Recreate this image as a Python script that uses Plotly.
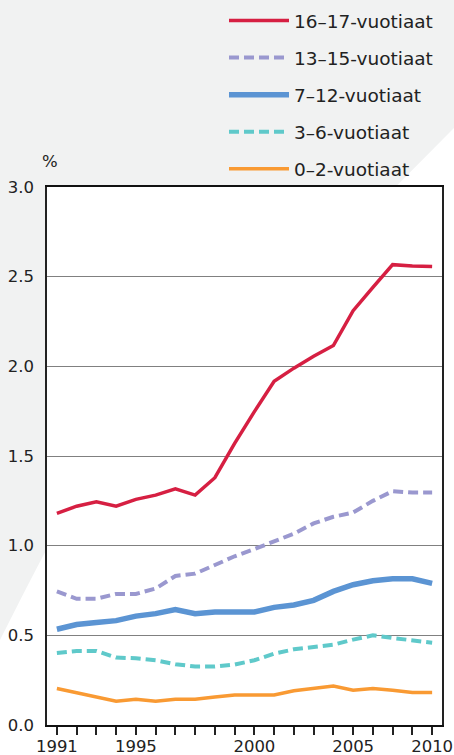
import plotly.graph_objects as go

years = list(range(1991, 2011))

age_16_17 = [1.18, 1.22, 1.245, 1.22, 1.258, 1.282, 1.317, 1.282, 1.379, 1.57, 1.747, 1.917,
             1.99, 2.056, 2.116, 2.31, 2.44, 2.567, 2.56, 2.556]
age_13_15 = [0.745, 0.704, 0.704, 0.731, 0.731, 0.761, 0.831, 0.844, 0.892, 0.941, 0.981, 1.027,
             1.067, 1.124, 1.161, 1.185, 1.25, 1.304, 1.296, 1.296]
age_7_12 = [0.534, 0.56, 0.571, 0.582, 0.607, 0.621, 0.644, 0.62, 0.63, 0.63, 0.63, 0.656,
            0.669, 0.695, 0.745, 0.782, 0.804, 0.815, 0.815, 0.79]
age_3_6 = [0.402, 0.413, 0.413, 0.376, 0.372, 0.361, 0.339, 0.326, 0.326, 0.337, 0.361, 0.398,
           0.422, 0.435, 0.448, 0.476, 0.5, 0.485, 0.472, 0.459]
age_0_2 = [0.204, 0.18, 0.157, 0.133, 0.144, 0.133, 0.144, 0.144, 0.156, 0.167, 0.167, 0.167,
           0.191, 0.204, 0.217, 0.194, 0.204, 0.194, 0.181, 0.181]

series_names = ["16–17-vuotiaat", "13–15-vuotiaat", "7–12-vuotiaat", "3–6-vuotiaat", "0–2-vuotiaat"]
series_values = [age_16_17, age_13_15, age_7_12, age_3_6, age_0_2]
series_colors = ["#d61f42", "#9a98cf", "#5b94d3", "#5fc9ca", "#f99a33"]
series_widths = [3.5, 4, 5.5, 4, 3.5]
series_dash = ["solid", "10px,5px", "solid", "10px,5px", "solid"]

# tick labels as they appear in the picture
tick_label_text = {1991: "1991", 1995: "1995", 2001: "2000", 2006: "2005", 2010: "2010"}
y_ticks = [0, 0.5, 1.0, 1.5, 2.0, 2.5, 3.0]

FONT = "DejaVu Sans"

fig = go.Figure()
for i, (name, vals, col, w, d) in enumerate(zip(series_names, series_values, series_colors,
                                                 series_widths, series_dash)):
    fig.add_trace(go.Scatter(
        x=years, y=vals, name=name, mode="lines",
        line=dict(color=col, width=w, dash=d),
        legendgroup=f"g{i}",
    ))

W, H = 454, 755
L, R, T, B = 47, 12, 187, 30
pw, ph = W - L - R, H - T - B


def px(xp, yp):
    return (xp - L) / pw, (H - B - yp) / ph


p1 = px(454, 128)
p2 = px(454, 760)
p3 = px(-5, 760)
p4 = px(-5, 650)
c = px(40, 560)
p5 = px(60, 525)
path = (f"M {p1[0]},{p1[1]} L {p2[0]},{p2[1]} L {p3[0]},{p3[1]} L {p4[0]},{p4[1]} "
        f"Q {c[0]},{c[1]} {p5[0]},{p5[1]} Z")

fig.add_shape(type="path", path=path, xref="paper", yref="paper",
              fillcolor="#ffffff", line=dict(width=0), layer="below")

fig.add_annotation(text="%", xref="paper", yref="paper", x=px(50, 0)[0], y=px(0, 162)[1],
                   showarrow=False, xanchor="center", yanchor="middle",
                   font=dict(family=FONT, size=16.5, color="#222222"))

fig.update_layout(
    width=W, height=H,
    margin=dict(l=L, r=R, t=T, b=B, pad=0, autoexpand=False),
    paper_bgcolor="#f1f2f2",
    plot_bgcolor="#ffffff",
    font=dict(family=FONT, size=16.5, color="#222222"),
    showlegend=True,
    legend=dict(
        x=px(224, 0)[0], y=px(0, 2)[1], xanchor="left", yanchor="top",
        bgcolor="rgba(0,0,0,0)", borderwidth=0,
        font=dict(family=FONT, size=18.5, color="#222222"),
        itemwidth=60, tracegroupgap=10,
    ),
    xaxis=dict(
        range=[1990.5, 2010.5],
        tickvals=years,
        ticktext=[tick_label_text.get(y, "") for y in years],
        ticks="outside", ticklen=8, tickwidth=1.5, tickcolor="#222222",
        showline=True, linecolor="#111111", linewidth=1.5, mirror=True,
        showgrid=False, zeroline=False, ticklabelstandoff=-3,
        tickfont=dict(family=FONT, size=16.5, color="#222222"),
    ),
    yaxis=dict(
        range=[0, 3], tickvals=y_ticks, tickformat=".1f",
        ticks="", showline=True, linecolor="#222222", linewidth=1.5, mirror=True,
        showgrid=True, gridcolor="#808080", gridwidth=1.3, zeroline=False,
        ticklabelstandoff=8,
        tickfont=dict(family=FONT, size=16.5, color="#222222"),
    ),
)

fig.write_html("out.html", config={"displayModeBar": False},
               post_script="document.body.style.margin='0';document.body.style.overflow='hidden';")
